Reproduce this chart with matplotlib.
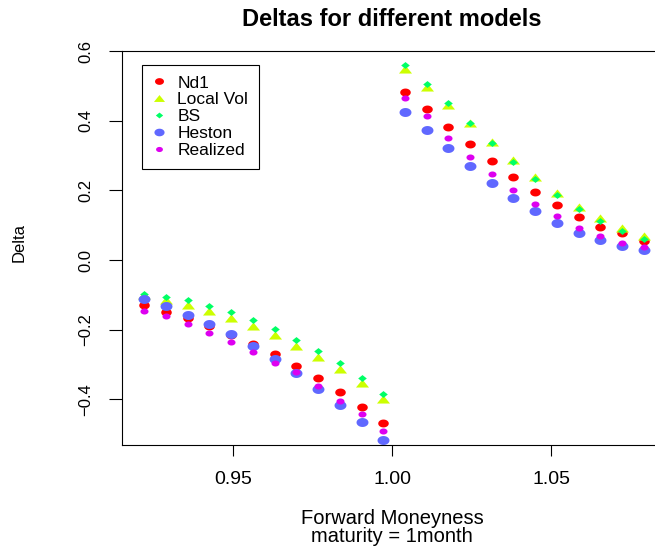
"""
Deltas for different models, one month maturity.
Recreated as a scatter of five model deltas against forward moneyness.
"""

import matplotlib

matplotlib.use('Agg')
import matplotlib.pyplot as plt
import numpy as np

# forward moneyness grid (puts below 1, calls above 1)
moneyness = [0.9220, 0.9289, 0.9358, 0.9425, 0.9494, 0.9563, 0.9631, 0.9699,
             0.9767, 0.9836, 0.9905, 0.9973,
             1.0041, 1.0109, 1.0177, 1.0245, 1.0314, 1.0382, 1.0450, 1.0518,
             1.0587, 1.0655, 1.0724, 1.0792]

delta_nd1 = [-0.130, -0.148, -0.168, -0.190, -0.215, -0.241, -0.270, -0.305,
             -0.340, -0.379, -0.422, -0.467,
             0.483, 0.433, 0.382, 0.332, 0.284, 0.238, 0.195, 0.158,
             0.124, 0.096, 0.077, 0.055]

delta_localvol = [-0.101, -0.115, -0.129, -0.147, -0.168, -0.190, -0.216, -0.247,
                  -0.280, -0.314, -0.354, -0.398,
                  0.548, 0.498, 0.444, 0.393, 0.339, 0.287, 0.238, 0.193,
                  0.153, 0.120, 0.093, 0.070]

delta_bs = [-0.097, -0.105, -0.114, -0.131, -0.150, -0.172, -0.199, -0.229,
            -0.262, -0.297, -0.339, -0.385,
            0.560, 0.506, 0.450, 0.395, 0.335, 0.281, 0.232, 0.187,
            0.146, 0.112, 0.083, 0.061]

delta_heston = [-0.112, -0.132, -0.157, -0.183, -0.214, -0.247, -0.284, -0.326,
                -0.370, -0.417, -0.466, -0.517,
                0.426, 0.374, 0.321, 0.270, 0.222, 0.178, 0.140, 0.107,
                0.079, 0.057, 0.040, 0.028]

delta_realized = [-0.147, -0.161, -0.184, -0.211, -0.235, -0.265, -0.295, -0.323,
                  -0.362, -0.405, -0.443, -0.490,
                  0.466, 0.414, 0.351, 0.297, 0.247, 0.202, 0.161, 0.126,
                  0.091, 0.070, 0.050, 0.038]

series_names = ['Nd1', 'Local Vol', 'BS', 'Heston', 'Realized']

x_ticks = [0.95, 1.00, 1.05]
y_ticks = [-0.4, -0.2, 0.0, 0.2, 0.4, 0.6]


def ellipse_marker(ratio):
  """Closed ellipse path, wider than tall (the original device was stretched)."""
  t = np.linspace(0, 2 * np.pi, 40)
  return np.column_stack([np.cos(t), ratio * np.sin(t)])


triangle = [(-1.0, -0.62), (1.0, -0.62), (0.0, 0.62), (-1.0, -0.62)]
diamond = [(0.0, 0.8), (1.0, 0.0), (0.0, -0.8), (-1.0, 0.0), (0.0, 0.8)]
oval = ellipse_marker(0.75)

styles = {
  'Nd1': dict(marker=oval, color='#FF0000', ms=7.6),
  'Local Vol': dict(marker=triangle, color='#CCFF00', ms=9.4),
  'BS': dict(marker=diamond, color='#00FF66', ms=6.2),
  'Heston': dict(marker=oval, color='#6068FF', ms=8.6),
  'Realized': dict(marker=oval, color='#DD00F0', ms=5.8),
}

plt.rcParams['font.family'] = ['Liberation Sans', 'DejaVu Sans']

W, H = 655, 547
fig = plt.figure(figsize=(W / 100, H / 100), dpi=100)

# plot region in pixels; the right edge lies outside the saved picture
left_px, right_px, top_px, bottom_px = 122, 664, 51, 445
ax = fig.add_axes([left_px / W, 1 - bottom_px / H,
                   (right_px - left_px) / W, (bottom_px - top_px) / H])

all_deltas = [delta_nd1, delta_localvol, delta_bs, delta_heston, delta_realized]
for name, vals in zip(series_names, all_deltas):
  st = styles[name]
  ax.plot(moneyness, vals, linestyle='none', marker=st['marker'],
          color=st['color'], markersize=st['ms'], markeredgewidth=0,
          label=name)

ax.set_xlim(0.91509, 1.08553)
ax.set_ylim(-0.5316, 0.6006)

ax.set_xticks(x_ticks)
ax.set_xticklabels([f'{v:.2f}' for v in x_ticks])
ax.set_yticks(y_ticks)
ax.set_yticklabels([f'{v:.1f}'.replace('-', '\u2212') for v in y_ticks],
                   rotation=90, va='center')

ax.tick_params(axis='x', direction='out', length=8, width=0.8,
               labelsize=14, pad=10.5)
ax.tick_params(axis='y', direction='out', length=9.4, width=0.8,
               labelsize=12, pad=11)

for side in ['left', 'bottom', 'top']:
  ax.spines[side].set_linewidth(0.8)
  ax.spines[side].set_color('black')
ax.spines['right'].set_visible(False)

leg = ax.legend(loc='upper left', bbox_to_anchor=(0.0363, 0.9645),
                borderaxespad=0, fancybox=False, edgecolor='black',
                framealpha=1, fontsize=12.5, markerscale=0.85,
                handlelength=0.8, handletextpad=0.65, labelspacing=0.1,
                borderpad=0.6)
leg.get_frame().set_linewidth(0.8)

fig.text(391.5 / W, 1 - 20 / H, 'Deltas for different models',
         ha='center', va='center', fontsize=17, fontweight='bold')
# two-line x label; the second line sits right at the bottom edge
fig.text(392 / W, 1 - 518 / H, 'Forward Moneyness',
         ha='center', va='center', fontsize=14.5)
fig.text(392 / W, 1 - 536 / H, 'maturity = 1month',
         ha='center', va='center', fontsize=14.5)
fig.text(19 / W, 1 - 243 / H, 'Delta', rotation=90,
         ha='center', va='center', fontsize=12)

fig.savefig('out.png', dpi=100)
